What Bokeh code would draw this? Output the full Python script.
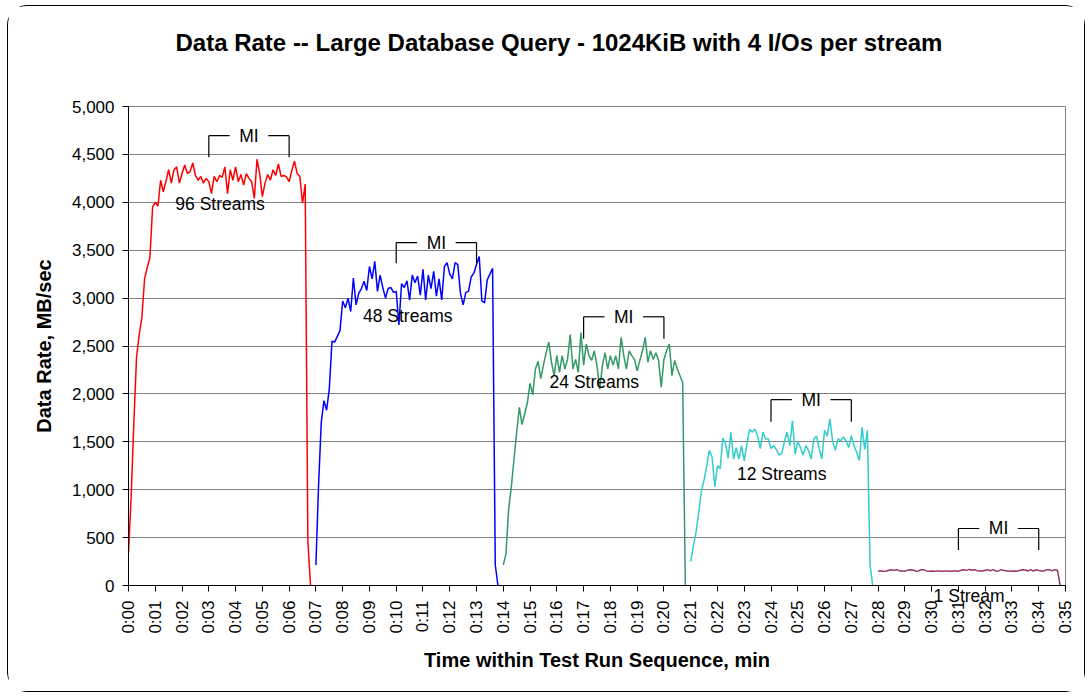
import math
from bokeh.plotting import figure
from bokeh.models import (FixedTicker, NumeralTickFormatter, Range1d, ColumnDataSource,
                          LabelSet, Label, Title)
from bokeh.core.properties import value
from bokeh.embed import file_html
from bokeh.resources import INLINE

# ---------------- data ----------------
STEP = 0.1  # minutes between samples

title_text = "Data Rate -- Large Database Query - 1024KiB with 4 I/Os per stream"
x_title = "Time within Test Run Sequence, min"
y_title = "Data Rate, MB/sec"

x_ticks = list(range(0, 36))
x_tick_labels = ["0:%02d" % m for m in x_ticks]
y_ticks = [0, 500, 1000, 1500, 2000, 2500, 3000, 3500, 4000, 4500, 5000]

red_start = 0.0
red_vals = [343, 930, 1700, 2380, 2620, 2800, 3200, 3320, 3420, 3950,
            4000, 3960, 4230, 4110, 4220, 4340, 4200, 4340, 4370, 4200,
            4300, 4390, 4300, 4320, 4410, 4280, 4230, 4270, 4200, 4250,
            4215, 4090, 4270, 4215, 4280, 4260, 4370, 4090, 4340, 4230,
            4370, 4215, 4290, 4180, 4300, 4250, 4215, 4040, 4450, 4300,
            4060, 4200, 4290, 4230, 4340, 4280, 4400, 4270, 4280, 4265,
            4215, 4330, 4430, 4300, 4270, 3990, 4190, 460, 0]

blue_start = 7.0
blue_vals = [214, 1050, 1700, 1930, 1830, 2050, 2550, 2540, 2600, 2660,
             2970, 2900, 3000, 2860, 3210, 2930, 3050, 3100, 3175, 3080,
             3330, 3200, 3383, 3070, 3240, 3110, 3000, 3100, 3110, 3060,
             3070, 2720, 3150, 3110, 3180, 2980, 3240, 3160, 3230, 3030,
             3300, 2980, 3240, 3100, 3280, 3020, 3200, 2980, 3330, 3370,
             3250, 3200, 3370, 3350, 3050, 2930, 3060, 3070, 3220, 3260,
             3350, 3435, 2970, 2950, 3190, 3250, 3310, 214, 0]

green_start = 14.0
green_vals = [214, 330, 800, 1030, 1320, 1600, 1860, 1680, 1790, 1910,
              2110, 1990, 2260, 2340, 2160, 2300, 2430, 2540, 2330, 2190,
              2400, 2225, 2400, 2260, 2360, 2620, 2260, 2360, 2225, 2640,
              2300, 2520, 2400, 2350, 2450, 2290, 2050, 2290, 2430, 2260,
              2400, 2300, 2400, 2260, 2590, 2400, 2260, 2450, 2400, 2360,
              2240, 2350, 2450, 2590, 2330, 2450, 2360, 2430, 2350, 2070,
              2360, 2450, 2520, 2190, 2350, 2260, 2190, 2120, 0]

cyan_start = 21.0
cyan_vals = [250, 410, 560, 760, 990, 1100, 1250, 1410, 1340, 1030,
             1250, 1220, 1540, 1480, 1330, 1600, 1320, 1440, 1320, 1460,
             1300, 1480, 1630, 1600, 1630, 1560, 1430, 1600, 1530, 1530,
             1430, 1460, 1420, 1360, 1380, 1500, 1600, 1460, 1720, 1370,
             1500, 1440, 1360, 1460, 1410, 1320, 1530, 1560, 1430, 1320,
             1620, 1560, 1740, 1510, 1410, 1530, 1510, 1550, 1510, 1440,
             1565, 1460, 1390, 1305, 1650, 1420, 1620, 215, 0]

purple_start = 28.0
purple_vals = [152, 152, 150, 152, 160, 165, 158, 165, 152, 152,
               150, 160, 165, 162, 152, 150, 165, 165, 152, 150,
               152, 150, 152, 152, 150, 152, 152, 150, 152, 152,
               150, 160, 165, 158, 168, 160, 165, 155, 152, 152,
               160, 165, 152, 165, 150, 152, 165, 158, 152, 152,
               150, 152, 150, 160, 165, 162, 152, 165, 150, 165,
               158, 152, 152, 165, 165, 152, 165, 160, 0]

stream_names = ["96 Streams", "48 Streams", "24 Streams", "12 Streams", "1 Stream"]
stream_label_x = [3.42, 10.43, 17.4, 24.4, 31.4]
stream_label_y = [3980, 2810, 2125, 1165, -105]

mi_start = [3, 10, 17, 24, 31]
mi_end = [6, 13, 20, 27, 34]
mi_top = [4695, 3580, 2805, 1940, 595]
mi_bottom = [4470, 3365, 2575, 1710, 370]

# ---------------- styles ----------------
FONT = "Liberation Sans"
MI_GAP = 0.72  # half-width of the gap around the "MI" text, in minutes

series = [
    (red_start, red_vals, "#FF0000"),
    (blue_start, blue_vals, "#0000FF"),
    (green_start, green_vals, "#339966"),
    (cyan_start, cyan_vals, "#33CCCC"),
    (purple_start, purple_vals, "#993366"),
]

p = figure(width=1078, height=687, output_backend="svg", toolbar_location=None,
           title=None,
           x_range=Range1d(0, 35), y_range=Range1d(0, 5000),
           min_border_left=120, min_border_right=21,
           min_border_top=100, min_border_bottom=104)
p.styles = {"border": "1px solid #000000", "border-radius": "20px",
            "margin-left": "7px", "margin-top": "5px"}
p.background_fill_color = "white"
p.border_fill_color = "white"
p.outline_line_color = "#808080"
p.outline_line_width = 1

# spacer between frame and title (first 'above' item sits next to the frame)
p.add_layout(Title(text=" ", text_font=FONT, text_font_size="20px", standoff=27), "above")
p.add_layout(Title(text=title_text, align="left", vertical_align="bottom", offset=47,
                   standoff=0, text_color="black", text_font=FONT,
                   text_font_size="24px", text_font_style="bold"), "above")

# axes
p.xaxis.ticker = FixedTicker(ticks=x_ticks)
p.xaxis.major_label_overrides = {t: l for t, l in zip(x_ticks, x_tick_labels)}
p.xaxis.major_label_orientation = math.pi / 2
p.xaxis.axis_label = x_title
p.yaxis.ticker = FixedTicker(ticks=y_ticks)
p.yaxis.formatter = NumeralTickFormatter(format="0,0")
p.yaxis.axis_label = y_title
for ax in (p.xaxis, p.yaxis):
    ax.minor_tick_line_color = None
    ax.major_tick_in = 0
    ax.major_tick_out = 6
    ax.axis_line_color = "black"
    ax.major_tick_line_color = "black"
    ax.major_label_text_font = FONT
    ax.major_label_text_font_size = "17px"
    ax.major_label_text_color = "black"
    ax.axis_label_text_font = FONT
    ax.axis_label_text_font_size = "20px"
    ax.axis_label_text_font_style = "bold"
    ax.axis_label_text_color = "black"
p.xaxis.major_label_standoff = 9
p.xaxis.axis_label_standoff = 12
p.yaxis.major_label_standoff = 8
p.yaxis.axis_label_standoff = 14

p.xgrid.visible = False
p.ygrid.grid_line_color = "#808080"
p.ygrid.grid_line_width = 1

# data lines
for start, vals, color in series:
    xs = [start + STEP * i for i in range(len(vals))]
    p.line(xs, vals, line_color=color, line_width=1.5)

# MI brackets
mid = [(a + b) / 2 for a, b in zip(mi_start, mi_end)]
seg_x0, seg_y0, seg_x1, seg_y1 = [], [], [], []
for a, b, m, top, bot in zip(mi_start, mi_end, mid, mi_top, mi_bottom):
    seg_x0 += [a, a, m + MI_GAP, b]
    seg_y0 += [bot, top, top, top]
    seg_x1 += [a, m - MI_GAP, b, b]
    seg_y1 += [top, top, top, bot]
p.segment(seg_x0, seg_y0, seg_x1, seg_y1, line_color="black", line_width=1.2)

mi_src = ColumnDataSource(dict(x=mid, y=mi_top, text=["MI"] * len(mid)))
p.add_layout(LabelSet(x="x", y="y", text="text", source=mi_src,
                      text_align="center", text_baseline="middle",
                      text_font=value(FONT), text_font_size=value("17.5px"),
                      text_color="black"))

# stream labels: those inside the plot area in the centre, the one below the
# axis in the bottom panel (centre annotations are clipped to the plot area)
inside = [i for i, yv in enumerate(stream_label_y) if yv >= 0]
outside = [i for i, yv in enumerate(stream_label_y) if yv < 0]
st_src = ColumnDataSource(dict(x=[stream_label_x[i] for i in inside],
                               y=[stream_label_y[i] for i in inside],
                               text=[stream_names[i] for i in inside]))
p.add_layout(LabelSet(x="x", y="y", text="text", source=st_src,
                      text_align="center", text_baseline="middle",
                      text_font=value(FONT), text_font_size=value("17.5px"),
                      text_color="black"))
for i in outside:
    p.add_layout(Label(x=stream_label_x[i], y=stream_label_y[i], text=stream_names[i],
                       text_align="center", text_baseline="middle", text_font=FONT,
                       text_font_size="17.5px", text_color="black"), "below")

open("out.html", "w").write(file_html(p, INLINE))
